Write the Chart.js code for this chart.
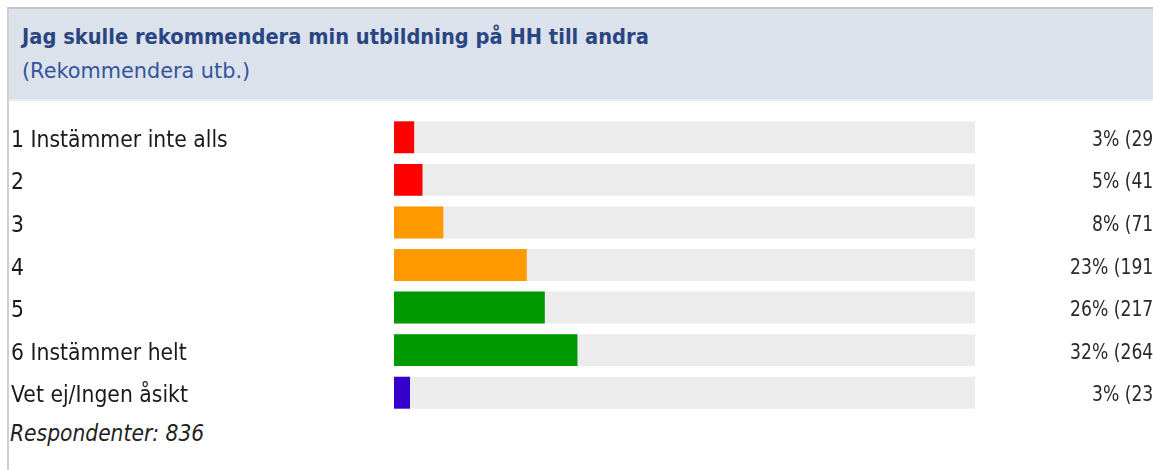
<!DOCTYPE html>
<html>
<head>
<meta charset="utf-8">
<script src="https://cdn.jsdelivr.net/npm/chart.js@4/dist/chart.umd.min.js"></script>
<style>
  html, body { margin: 0; padding: 0; background: #fff; }
  body { width: 1153px; height: 470px; position: relative; overflow: hidden; }
  #frame { position: absolute; left: 7px; top: 7px; right: -5px; bottom: -5px;
           border-left: 2px solid #cfcfcf; border-top: 2px solid #c4c4c4; }
  #header { position: absolute; left: 9px; top: 9px; right: 0; height: 90px;
            background: #dbe2ec; border-bottom: 2px solid #e9edf3; }
  .t { position: absolute; white-space: nowrap; transform-origin: left top;
       font-family: "DejaVu Sans", Verdana, sans-serif; }
  #title { left: 22px; top: 25px; font-size: 19.5px; font-weight: bold; color: #2a4682; transform: scale(1, 1.08); }
  #subtitle { left: 22px; top: 58px; font-size: 20.8px; color: #34559a; transform: scale(1, 1.05); }
  #footer { left: 10px; top: 419px; font-size: 20.3px; font-style: italic; color: #222; transform: scale(1, 1.15); }
  canvas { position: absolute; left: 0; top: 0; }
</style>
</head>
<body>
<div id="frame"></div>
<div id="header"></div>
<div class="t" id="title">Jag skulle rekommendera min utbildning på HH till andra</div>
<div class="t" id="subtitle">(Rekommendera utb.)</div>
<div class="t" id="footer">Respondenter: 836</div>
<canvas id="c" width="1153" height="470"></canvas>
<script>
const categories = ["1 Instämmer inte alls", "2", "3", "4", "5", "6 Instämmer helt", "Vet ej/Ingen åsikt"];
const counts = [29, 41, 71, 191, 217, 264, 23];
const percentLabels = ["3%", "5%", "8%", "23%", "26%", "32%", "3%"];
const totalRespondents = 836;
const barColors = ["#ff0000", "#ff0000", "#ff9900", "#ff9900", "#009900", "#009900", "#3300cc"];
const trackValues = [100, 100, 100, 100, 100, 100, 100];

const shares = counts.map(c => c / totalRespondents * 100);

function stretchedText(ctx, text, x, y, sy, align) {
  ctx.save();
  ctx.translate(x, y);
  ctx.scale(1, sy);
  ctx.textAlign = align;
  ctx.textBaseline = "alphabetic";
  ctx.fillText(text, 0, 0);
  ctx.restore();
}

const labelPlugin = {
  id: "rowLabels",
  afterDatasetsDraw(chart) {
    const ctx = chart.ctx;
    const yScale = chart.scales.y;
    categories.forEach((cat, i) => {
      const yc = yScale.getPixelForValue(i);
      ctx.fillStyle = "#1a1a1a";
      ctx.font = "20.4px 'DejaVu Sans'";
      stretchedText(ctx, cat, 11, yc + 9.5, 1.15, "left");
      ctx.fillStyle = "#2a2a2a";
      ctx.font = "17.2px 'DejaVu Sans'";
      stretchedText(ctx, percentLabels[i] + " (" + counts[i] + ")", 1160, yc + 8.5, 1.28, "right");
    });
  }
};

new Chart(document.getElementById("c"), {
  type: "bar",
  data: {
    labels: categories,
    datasets: [
      { data: shares, backgroundColor: barColors, order: 1, grouped: false,
        barPercentage: 0.75, categoryPercentage: 1 },
      { data: trackValues, backgroundColor: "#ececec", order: 2, grouped: false,
        barPercentage: 0.75, categoryPercentage: 1 }
    ]
  },
  options: {
    indexAxis: "y",
    responsive: false,
    animation: false,
    events: [],
    layout: { padding: { left: 394, right: 178, top: 116, bottom: 56 } },
    scales: {
      x: { display: false, min: 0, max: 100 },
      y: { display: false }
    },
    plugins: { legend: { display: false }, tooltip: { enabled: false } }
  },
  plugins: [labelPlugin]
});
</script>
</body>
</html>
